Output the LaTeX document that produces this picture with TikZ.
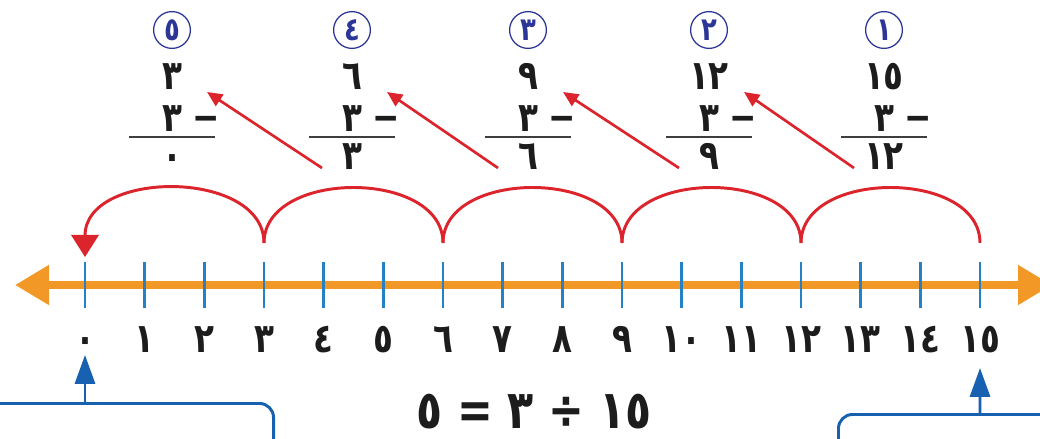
\documentclass[tikz,border=0pt]{standalone}
\usepackage{fontspec}
\newfontfamily\arabicfont[Script=Arabic]{DejaVu Sans}
\newfontfamily\digitfont[Script=Arabic, FakeStretch=0.8]{DejaVu Sans}
\TeXXeTstate=1
\usetikzlibrary{positioning, arrows.meta}
\definecolor{axorange}{RGB}{242, 152, 38}
\definecolor{tickblue}{RGB}{38, 128, 196}
\definecolor{jumpred}{RGB}{220, 36, 44}
\definecolor{stepblue}{RGB}{44, 54, 150}
\definecolor{boxblue}{RGB}{24, 96, 176}
\definecolor{txtdark}{RGB}{28, 28, 28}

\begin{document}
\begin{tikzpicture}[x=0.025cm, y=-0.025cm,
  every node/.style={font=\arabicfont, text=txtdark},
  axisline/.style={axorange, line width=5.7pt,
    {Triangle[length=0.85cm, width=0.95cm]}-{Triangle[length=0.85cm, width=0.95cm]}},
  tickmark/.style={tickblue, line width=2.1pt},
  ticklbl/.style={font=\digitfont\bfseries\fontsize{29}{31}\selectfont, anchor=base, inner sep=0pt},
  digits/.style={font=\digitfont\bfseries\fontsize{29}{31}\selectfont, anchor=base, inner sep=0pt},
  stepnum/.style={circle, draw=stepblue, line width=0.9pt, minimum size=0.92cm, inner sep=0pt,
    text=stepblue, font=\digitfont\bfseries\fontsize{23}{25}\selectfont},
  rule/.style={txtdark!85, line width=1.2pt},
  jump/.style={jumpred, line width=2.1pt},
  diag/.style={jumpred, line width=1.9pt, -{Triangle[length=0.38cm, width=0.34cm]}},
  pointer/.style={boxblue, line width=2.1pt, -{Triangle[length=0.72cm, width=0.5cm]}},
  infobox/.style={draw=boxblue, line width=2.1pt, rounded corners=0.35cm, inner sep=0pt},
]

\useasboundingbox (0,0) rectangle (1040,439);
\clip (0,0) rectangle (1040,439);

% Number line
\coordinate (axL) at (15,285);
\coordinate (axR) at (1052,285);
\draw[axisline] (axL) -- (axR);

\foreach \i/\lbl in {0/٠,1/١,2/٢,3/٣,4/٤,5/٥,6/٦,7/٧,8/٨,9/٩,10/١٠,11/١١,12/١٢,13/١٣,14/١٤,15/١٥}{
  \coordinate (t\i) at ({85+59.667*\i},285);
  \draw[tickmark] ([yshift=0.575cm]t\i) -- ([yshift=-0.575cm]t\i);
  \node[ticklbl] (l\i) at ({85+59.667*\i},352) {\lbl};
}

% Jumps of three
\foreach \i in {3,6,...,15}{
  \coordinate (j\i) at ({85+59.667*\i},243);
}
\coordinate (j0) at (85,257);
\foreach \i/\k in {15/12,12/9,9/6,6/3}{
  \draw[jump] (j\i) .. controls +(0,-74) and +(0,-74) .. (j\k);
}
\draw[jump, -{Triangle[length=0.55cm, width=0.68cm]}] (j3) .. controls +(0,-74) and +(0,-88) .. (j0);

% Subtraction steps
\foreach \s/\col/\cd/\top/\res in {1/884/١/١٥/١٢, 2/709/٢/١٢/٩, 3/528/٣/٩/٦, 4/352/٤/٦/٣, 5/172/٥/٣/٠}{
  \node[stepnum] (c\s) at (\col,30) {\cd};
  \node[digits] (n\s) at (\col,90) {\top};
  \node[digits] (m\s) at (\col,132) {٣};
  \node[digits] (mi\s) at (\col+34,132) {−};
  \draw[rule] (\col-43,137) -- (\col+43,137);
  \node[digits] (r\s) at (\col,170) {\res};
}

% Arrows to the next step
\foreach \s/\col/\j in {1/884/2, 2/709/3, 3/528/4, 4/352/5}{
  \coordinate (s\s) at (\col-30,168);
  \draw[diag] (s\s) -- ([xshift=0.875cm, yshift=-0.05cm]n\j.base);
}

% Equation
\node[font=\digitfont\bfseries\fontsize{38}{40}\selectfont, anchor=base, inner sep=0pt] (eq) at (534,428) {\beginR ١٥ ÷ ٣ = ٥\endR};

% Boxes below
\node[infobox, minimum width=7.4cm, minimum height=2.4cm, anchor=north east] (lbox) at (275,402) {};
\node[infobox, minimum width=6cm, minimum height=2.4cm, anchor=north west] (rbox) at (837,413) {};
\coordinate (pL) at (85,355);
\coordinate (pR) at (980,368);
\draw[pointer] (lbox.north -| t0) -- (pL);
\draw[pointer] (rbox.north -| t15) -- (pR);

\end{tikzpicture}
\end{document}
